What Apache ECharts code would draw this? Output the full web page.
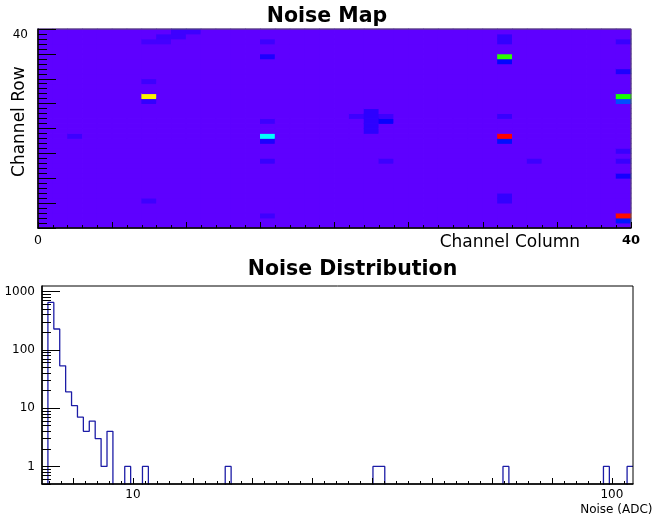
<!DOCTYPE html>
<html><head><meta charset="utf-8">
<script src="https://cdn.jsdelivr.net/npm/echarts@6/dist/echarts.min.js"></script>
<style>html,body{margin:0;padding:0;background:#fff}#c{width:652px;height:521px}</style>
</head><body><div id="c"></div>
<script>
// ---------------- Noise map (40 x 40 channels) ----------------
const mapColumns = 40;          // channel columns 0..39
const mapRows = 40;             // channel rows 0..39
const baselineNoise = 5;        // noise of an ordinary channel
// [column, row, noise] of channels that differ from the baseline
const hotChannels = [
  [2,18,8],
  [7,37,7.5],[8,37,7.5],[8,38,8],[9,38,8],[9,39,8],[10,39,8],
  [7,29,8],[7,26,87],[7,25,9],[7,5,8],
  [15,37,8],[15,34,11],[15,21,8],[15,18,38],[15,17,11],[15,13,8.5],[15,2,8],
  [21,22,8],
  [22,19,9.5],[22,20,9.5],[22,21,9.5],[22,22,9.5],[22,23,9.5],
  [23,22,8],[23,21,13],[23,13,8],
  [31,38,9],[31,37,9],[31,34,66],[31,33,14],[31,22,8.5],[31,18,110],[31,17,15],[31,6,9],[31,5,9],
  [33,13,8],
  [39,37,8.5],[39,31,11],[39,26,64],[39,25,21],[39,15,8.5],[39,13,8.5],[39,10,12],[39,2,109],[39,1,16]
];
const mapZMin = 0, mapZMax = 110;
const mapXTickLabels = ['0', '40'];   // at column 0 and 40
const mapYTickLabels = ['40'];        // at row 40

// ---------------- Noise distribution (100 log bins) ----------------
const histNBins = 100;
const histLogMin = 0.81;     // log10(Noise) at left edge  (~6.5 ADC)
const histLogMax = 2.044;    // log10(Noise) at right edge (~111 ADC)
const histCounts = [
  0,648,227,53,19,11,7,4,6,3,   1,4,0,0,1,0,0,1,0,0,
  0,0,0,0,0,0,0,0,0,0,          0,1,0,0,0,0,0,0,0,0,
  0,0,0,0,0,0,0,0,0,0,          0,0,0,0,0,0,1,1,0,0,
  0,0,0,0,0,0,0,0,0,0,          0,0,0,0,0,0,0,0,1,0,
  0,0,0,0,0,0,0,0,0,0,          0,0,0,0,0,1,0,0,0,1
];
const histYMin = 0.5, histYMax = 1240;
const histXTickValues = [10, 100];
const histXTickLabels = ['10', '100'];
const histYTickValues = [1, 10, 100, 1000];
const histYTickLabels = ['1', '10', '100', '1000'];

// ---------------- helpers ----------------
function hueColor(h) { // HLS with L=0.5, S=1 (ROOT "pretty" palette)
  const f = n => { const k = (n + h / 30) % 12; return 0.5 - 0.5 * Math.max(-1, Math.min(k - 3, 9 - k, 1)); };
  const c = v => Math.round(v * 255).toString(16).padStart(2, '0');
  return '#' + c(f(0)) + c(f(8)) + c(f(4));
}
const palette = [];
for (let i = 0; i < 50; i++) palette.push(hueColor(280 - (i + 1) * 5.6));

const colCats = [], rowCats = [];
for (let i = 0; i < mapColumns; i++) colCats.push(String(i));
for (let j = 0; j < mapRows; j++) rowCats.push(String(j));
const noiseGrid = [];
for (let i = 0; i < mapColumns; i++) { noiseGrid.push([]); for (let j = 0; j < mapRows; j++) noiseGrid[i].push(baselineNoise); }
hotChannels.forEach(([c, r, v]) => { noiseGrid[c][r] = v; });
const heatData = [];
for (let i = 0; i < mapColumns; i++) for (let j = 0; j < mapRows; j++) heatData.push([i, j, noiseGrid[i][j]]);

const binW = (histLogMax - histLogMin) / histNBins;
const yLo = Math.log10(histYMin), yHi = Math.log10(histYMax);
const histLine = [];
histCounts.forEach((c, k) => {
  const y = c > 0 ? Math.log10(c) : yLo - 1;
  histLine.push([histLogMin + k * binW, y], [histLogMin + (k + 1) * binW, y]);
});

// tick positions
const hxMajor = [], hxMinor = [];
for (let k = 7; k <= 16; k++) hxMajor.push(k / 8);
for (let k = 33; k <= 81; k++) hxMinor.push(k / 40);
const hyMajor = histYTickValues.map(v => Math.log10(v));
const hyMinor = [];
for (let d = -1; d <= 2; d++) for (let m = 2; m <= 9; m++) { const u = d + Math.log10(m); if (u >= yLo - 1e-9 && u <= yHi) hyMinor.push(u); }

const FONT = 'DejaVu Sans';
const black = '#000';
const common = { splitLine: { show: false }, z: 5 };
const lineOn = w => ({ show: true, onZero: false, lineStyle: { color: black, width: w } });
const lineOff = { show: false, onZero: false };

const chart = echarts.init(document.getElementById('c'), null, { renderer: 'canvas' });
chart.setOption({
  animation: false,
  backgroundColor: '#fff',
  textStyle: { fontFamily: FONT },
  grid: [
    { left: 38, top: 29, width: 593, height: 199, containLabel: false, show: true, borderColor: '#555', borderWidth: 1, backgroundColor: 'transparent', z: 5 },
    { left: 42, top: 286, width: 591, height: 198, containLabel: false, show: true, borderColor: '#000', borderWidth: 1, backgroundColor: 'transparent', z: 5 }
  ],
  visualMap: { show: false, type: 'continuous', seriesIndex: 0, dimension: 2, min: mapZMin, max: mapZMax, inRange: { color: palette } },
  xAxis: [
    Object.assign({ gridIndex: 0, type: 'category', data: colCats, position: 'bottom',
      axisLine: lineOn(1.5),
      axisTick: { show: true, inside: true, length: 3, interval: 0, lineStyle: { color: black } },
      axisLabel: { show: false } }, common),
    Object.assign({ gridIndex: 0, type: 'value', min: 0, max: mapColumns, interval: 5, position: 'bottom',
      axisLine: lineOff,
      axisTick: { show: true, inside: true, length: 6, lineStyle: { color: black } },
      axisLabel: { show: true, customValues: [0, mapColumns], margin: 6, color: black,
        formatter: v => v === 0 ? '{r|' + mapXTickLabels[0] + '}' : '{b|' + mapXTickLabels[1] + '}',
        rich: { r: { fontFamily: FONT, fontSize: 12.5, color: black }, b: { fontFamily: FONT, fontSize: 13, fontWeight: 'bold', color: black } } } }, common),
    Object.assign({ gridIndex: 1, type: 'value', min: histLogMin, max: histLogMax, position: 'bottom',
      axisLine: lineOn(1.5),
      axisTick: { show: true, inside: true, length: 6, customValues: hxMajor, lineStyle: { color: black } },
      axisLabel: { show: true, customValues: histXTickValues.map(v => Math.log10(v)), margin: 5, color: black, fontSize: 12, fontFamily: FONT,
        formatter: v => histXTickLabels[histXTickValues.findIndex(t => Math.abs(Math.log10(t) - v) < 1e-6)] } }, common),
    Object.assign({ gridIndex: 1, type: 'value', min: histLogMin, max: histLogMax, position: 'bottom',
      axisLine: lineOff,
      axisTick: { show: true, inside: true, length: 3, customValues: hxMinor, lineStyle: { color: black } },
      axisLabel: { show: false } }, common)
  ],
  yAxis: [
    Object.assign({ gridIndex: 0, type: 'category', data: rowCats, position: 'left',
      axisLine: lineOn(1.5),
      axisTick: { show: true, inside: true, length: 9, interval: 0, lineStyle: { color: black } },
      axisLabel: { show: false } }, common),
    Object.assign({ gridIndex: 0, type: 'value', min: 0, max: mapRows, interval: 5, position: 'left',
      axisLine: lineOff,
      axisTick: { show: true, inside: true, length: 18, lineStyle: { color: black } },
      axisLabel: { show: true, customValues: [mapRows], margin: 10, verticalAlign: 'top', color: black, fontSize: 12, fontFamily: FONT,
        formatter: () => mapYTickLabels[0] } }, common),
    Object.assign({ gridIndex: 1, type: 'value', min: yLo, max: yHi, position: 'left',
      axisLine: lineOn(1.5),
      axisTick: { show: true, inside: true, length: 18, customValues: hyMajor, lineStyle: { color: black } },
      axisLabel: { show: true, customValues: hyMajor, margin: 7, color: black, fontSize: 12, fontFamily: FONT,
        formatter: v => histYTickLabels[hyMajor.findIndex(t => Math.abs(t - v) < 1e-6)] } }, common),
    Object.assign({ gridIndex: 1, type: 'value', min: yLo, max: yHi, position: 'left',
      axisLine: lineOff,
      axisTick: { show: true, inside: true, length: 9, customValues: hyMinor, lineStyle: { color: black } },
      axisLabel: { show: false } }, common)
  ],
  series: [
    { type: 'custom', xAxisIndex: 0, yAxisIndex: 0, data: heatData, encode: { x: 0, y: 1 }, dimensions: ['col', 'row', 'noise'],
      emphasis: { disabled: true }, silent: true,
      renderItem: (params, api) => {
        const p = api.coord([api.value(0), api.value(1)]);
        const s = api.size([1, 1]);
        return { type: 'rect', shape: { x: p[0] - s[0] / 2 - 0.4, y: p[1] - s[1] / 2 - 0.4, width: s[0] + 0.8, height: s[1] + 0.8 },
          style: { fill: api.visual('color') } };
      } },
    { type: 'line', xAxisIndex: 2, yAxisIndex: 2, data: histLine, showSymbol: false, symbol: 'none', clip: true,
      lineStyle: { color: '#1c1ca6', width: 1.3 }, emphasis: { disabled: true }, z: 2 }
  ],
  graphic: [
    { type: 'text', x: 327, y: 16.5, style: { text: 'Noise Map', fontFamily: FONT, fontSize: 20.5, fontWeight: 'bold', fill: black, textAlign: 'center', textVerticalAlign: 'middle' } },
    { type: 'text', x: 352.5, y: 270, style: { text: 'Noise Distribution', fontFamily: FONT, fontSize: 20.5, fontWeight: 'bold', fill: black, textAlign: 'center', textVerticalAlign: 'middle' } },
    { type: 'text', x: 20, y: 121.7, rotation: Math.PI / 2, style: { text: 'Channel Row', fontFamily: FONT, fontSize: 17, fill: black, textAlign: 'center', textVerticalAlign: 'middle' } },
    { type: 'text', x: 580, y: 242.5, style: { text: 'Channel Column', fontFamily: FONT, fontSize: 17, fill: black, textAlign: 'right', textVerticalAlign: 'middle' } },
    { type: 'text', x: 652.5, y: 510, style: { text: 'Noise (ADC)', fontFamily: FONT, fontSize: 12, fill: black, textAlign: 'right', textVerticalAlign: 'middle' } }
  ]
});
</script>
</body></html>
